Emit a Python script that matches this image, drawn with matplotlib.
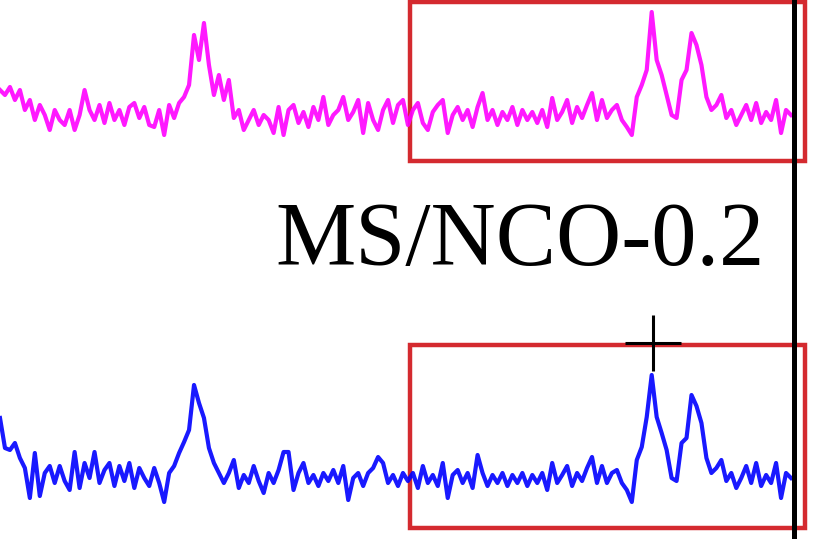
import numpy as np
import matplotlib.pyplot as plt
from matplotlib.patches import Rectangle

# intensity, relative to each trace's baseline (a.u.)
ms_top = [25, 20, 28, 15, 25, 5, 15, -5, 10, 0,
          -15, 5, -5, -10, 5, -15, 0, 25, 5, -5,
          10, -8, 12, -5, 5, -10, 8, 12, -3, 8,
          -10, -12, 5, -20, 10, -3, 12, 18, 30, 80,
          55, 92, 50, 20, 40, 15, 35, -3, 5, -15,
          -5, 5, -10, 0, -5, -18, 8, -20, 5, 10,
          -8, 3, -12, 8, -5, 18, -10, 0, 5, 18,
          -5, 3, 15, -18, 12, -5, -15, 5, 15, -8,
          10, 15, -10, 5, 12, -8, -15, 3, 10, 15,
          -18, 0, 8, -5, 5, -12, 8, 22, -5, 5,
          -10, 3, -5, 8, -10, 5, -5, 3, -8, 5,
          -12, 17, -5, 3, 15, -8, 8, -3, 10, 22,
          -5, 15, -3, 5, 10, -5, -12, -20, 18, 30,
          45, 103, 55, 40, 20, 0, -3, 35, 45, 82,
          70, 50, 18, 5, 10, 20, -3, 5, -10, 0,
          10, -5, 12, -8, 3, -5, 15, -18, 5, 0]

ms_bottom = [60, 30, 28, 35, 20, 10, -20, 25, -18, 5,
             12, -5, 12, -3, -12, 26, -10, 15, 0, 26,
             -5, 8, 15, -8, 12, -3, 15, -10, 10, 0,
             -8, 10, -5, -24, 5, 12, 25, 36, 48, 93,
             75, 60, 30, 15, 5, -5, 5, 18, -10, 3,
             -5, 12, -3, -15, 5, -5, 8, 26, 26, -12,
             5, 15, -5, 3, -8, 5, -3, 8, -5, 12,
             -22, 0, 5, -8, 5, 10, 21, 15, -5, 3,
             -8, 5, -3, 5, -10, 12, -5, 3, -8, 15,
             -20, 3, 8, -5, 5, -10, 23, 5, -8, 3,
             -5, 5, -8, 3, -5, 5, -8, 3, -5, 5,
             -12, 15, -5, 3, 12, -8, 5, -3, 10, 21,
             -5, 12, -5, 5, 8, -5, -12, -24, 18, 31,
             61, 103, 61, 45, 28, 0, -3, 35, 40, 83,
             72, 55, 20, 5, 10, 18, -3, 5, -10, 0,
             12, -5, 15, -8, 3, -5, 15, -20, 5, 0]

offsets = [424, 61]
colors = ['#ff00ff', '#0000ff']
label = 'MS/NCO-0.2'
peak_mark = (653, 196)
# highlighted regions: x0, x1, y0, y1
boxes = [(410, 805, 378, 537), (410, 805, 11, 194)]

x = np.linspace(0, 791, len(ms_top))

fig = plt.figure(figsize=(8.25, 5.39), dpi=100)
ax = fig.add_axes([0, 0, 1, 1])

for vals, off, c in zip([ms_top, ms_bottom], offsets, colors):
    ax.plot(x, np.array(vals) + off, color=c, lw=3.0, alpha=0.9)

for x0, x1, y0, y1 in boxes:
    ax.add_patch(Rectangle((x0, y0), x1 - x0, y1 - y0, fill=False,
                           edgecolor='#d42a2f', lw=3.2))

ax.axvline(794, color='black', lw=3.6)
ax.plot(peak_mark[0], peak_mark[1], marker='+', color='black', markersize=40, mew=2.2)

ax.text(275, 274, label, fontsize=65, family='Liberation Serif', ha='left', va='baseline')

ax.set_xlim(0, 825)
ax.set_ylim(0, 539)
ax.axis('off')

plt.savefig('out.png', dpi=100)
